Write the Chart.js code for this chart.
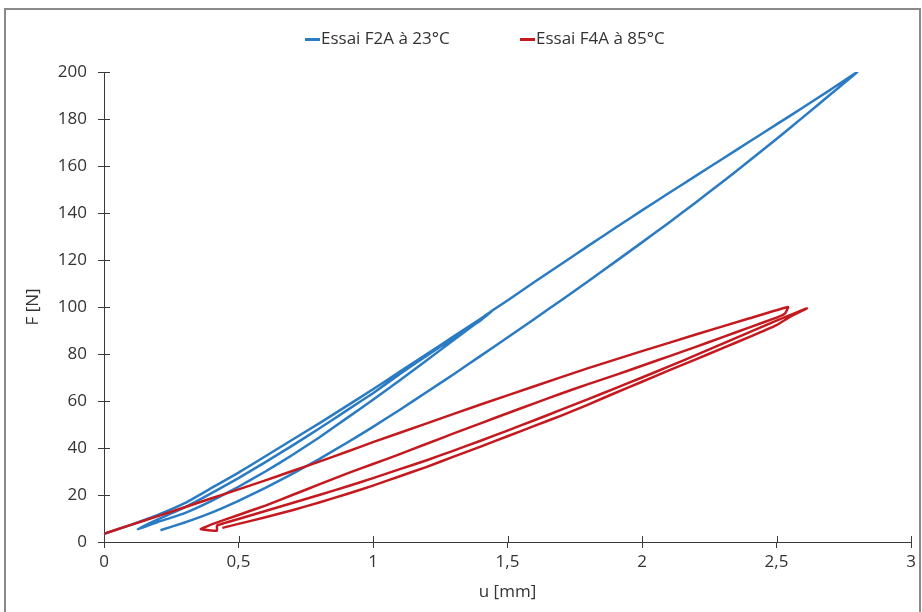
<!DOCTYPE html>
<html>
<head>
<meta charset="utf-8">
<script src="https://cdn.jsdelivr.net/npm/chart.js@4.4.1/dist/chart.umd.min.js"></script>
<style>
html, body { margin: 0; padding: 0; background: #fff; overflow: hidden; }
#wrap { position: relative; width: 922px; height: 612px; }
#frame { position: absolute; left: 4px; top: 8px; width: 917px; height: 640px;
         border: 2px solid #8a8a8a; box-sizing: border-box; }
canvas { position: absolute; left: 0; top: 0; }
#legend { position: absolute; top: 27px; left: 0; width: 922px; height: 22px;
          font: 17px 'Open Sans', sans-serif; color: #333; }
.item { position: absolute; top: 0; line-height: 22px; white-space: nowrap; }
.item i { display: inline-block; width: 15px; height: 3px; vertical-align: middle; margin-right: 1px; }
</style>
</head>
<body>
<div id="wrap">
  <div id="frame"></div>
  <canvas id="chart" width="922" height="612"></canvas>
  <div id="legend"></div>
</div>
<script>
/* Force / displacement cycles, two tests. Each series is one continuous
   path: load, unload, reload, .... */

const seriesNames = ['Essai F2A à 23°C', 'Essai F4A à 85°C'];
const seriesColors = ['#2b7bc3', '#c41a1f'];

// F2A at 23°C: load to 100 N, unload, reload to 200 N, unload
const blueU = [
  0, 0.1, 0.2, 0.3, 0.4, 0.5, 0.6, 0.7, 0.8, 0.9, 1.0, 1.1, 1.2, 1.3, 1.4, 1.45,
  1.4, 1.3, 1.2, 1.1, 1.0, 0.9, 0.8, 0.7, 0.6, 0.5, 0.4, 0.3, 0.2, 0.126,
  0.2, 0.3, 0.4, 0.5, 0.6, 0.7, 0.8, 0.9, 1.0, 1.1, 1.2, 1.3, 1.4, 1.45,
  1.5, 1.6, 1.7, 1.8, 1.9, 2.0, 2.1, 2.2, 2.3, 2.4, 2.5, 2.6, 2.7, 2.8,
  2.75, 2.7, 2.6, 2.5, 2.4, 2.3, 2.2, 2.1, 2.0, 1.9, 1.8, 1.7, 1.6, 1.5,
  1.4, 1.3, 1.2, 1.1, 1.0, 0.9, 0.8, 0.7, 0.6, 0.5, 0.4, 0.3, 0.21
];
const blueF = [
  3.5, 7.3, 11.5, 16.5, 23, 29.5, 36.5, 43.5, 50.5, 57.7, 65, 72.5, 80, 87.5, 95, 99,
  94.3, 86.8, 79.3, 71.5, 63.3, 55.8, 48.3, 41, 34, 27.2, 20.8, 14.7, 9.6, 5.5,
  8.5, 12.3, 17.5, 23.5, 30, 37, 44.5, 52.5, 60.5, 68.8, 77.3, 86, 94.5, 99,
  102.8, 110.6, 118.3, 126, 133.6, 141.1, 148.5, 155.8, 163.1, 170.4, 177.7, 185, 192.4, 200,
  195.2, 190.4, 180.9, 171.5, 162.3, 153.3, 144.5, 135.9, 127.5, 119.2, 111, 102.9, 94.9, 87,
  79.2, 71.4, 63.8, 56.3, 49, 42, 35.3, 29, 23, 17.5, 12.5, 8.3, 5
];

// F4A at 85°C: load to 100 N, unload, reload, unload
const redU = [
  0, 0.1, 0.2, 0.3, 0.4, 0.5, 0.6, 0.7, 0.8, 0.9, 1.0, 1.2, 1.4, 1.6, 1.8, 2.0, 2.2, 2.4, 2.543,
  2.532, 2.5, 2.4, 2.3, 2.2, 2.1, 2.0, 1.9, 1.8, 1.7, 1.6, 1.5, 1.4, 1.3, 1.2, 1.1, 1.0,
  0.9, 0.8, 0.7, 0.6, 0.5, 0.4, 0.36,
  0.42, 0.42, 0.5, 0.6, 0.7, 0.8, 0.9, 1.0, 1.1, 1.2, 1.3, 1.4, 1.5, 1.6, 1.7, 1.8, 1.9,
  2.0, 2.1, 2.2, 2.3, 2.4, 2.5, 2.613,
  2.55, 2.5, 2.4, 2.3, 2.2, 2.1, 2.0, 1.9, 1.8, 1.7, 1.6, 1.5, 1.4, 1.3, 1.2, 1.1, 1.0,
  0.9, 0.8, 0.7, 0.6, 0.5, 0.44
];
const redF = [
  3.5, 7.3, 11, 14.8, 18.6, 22.4, 26.2, 30.2, 34.2, 38.3, 42.5, 50.5, 58.5, 66.3, 74, 81.2, 88.3, 95.2, 100,
  97.3, 95.5, 91.3, 87.2, 83, 79, 75, 71, 67.2, 63.2, 59, 54.8, 50.5, 46.2, 41.8, 37.4, 33.2,
  29, 24.5, 20, 15.5, 11.5, 7.5, 5.5,
  4.8, 7.0, 9.8, 13.2, 16.6, 20, 23.5, 27.2, 31, 34.8, 38.9, 43.1, 47.4, 51.8, 56.3, 60.8, 65.4,
  70, 74.7, 79.5, 84.4, 89.3, 94.2, 99.4,
  95.8, 92.3, 87.3, 82.5, 77.7, 73, 68.2, 63.4, 58.5, 53.8, 49.4, 45, 40.6, 36.3, 32, 28, 24,
  20.3, 16.8, 13.5, 10.5, 7.7, 6.0
];

const xTickLabels = ['0', '0,5', '1', '1,5', '2', '2,5', '3'];
const yTickLabels = ['0', '20', '40', '60', '80', '100', '120', '140', '160', '180', '200'];

const axisColor = '#3a3a3a';
const textColor = '#333';
const baseFont = { family: "'Open Sans', sans-serif", size: 17 };

const toPoints = (us, fs) => us.map((u, i) => ({ x: u, y: fs[i] }));

// legend as plain html, placed like the original (not centred on the canvas)
const legendLeft = [305, 520];
const legend = document.getElementById('legend');
seriesNames.forEach((name, i) => {
    const item = document.createElement('div');
    item.className = 'item';
    item.style.left = legendLeft[i] + 'px';
    item.innerHTML = `<i style="background:${seriesColors[i]}"></i>${name}`;
    legend.appendChild(item);
});

/* Excel-style tick marks that cross the axis: Chart.js draws the outer
   half, this adds the inner half. */
const innerTicks = {
    id: 'innerTicks',
    beforeDatasetsDraw(chart) {
        const { ctx, chartArea, scales: { x, y } } = chart;
        ctx.save();
        ctx.strokeStyle = axisColor;
        ctx.lineWidth = 1;
        ctx.beginPath();
        x.ticks.forEach(t => {
            const px = Math.round(x.getPixelForValue(t.value)) + 0.5;
            ctx.moveTo(px, chartArea.bottom);
            ctx.lineTo(px, chartArea.bottom - 6);
        });
        y.ticks.forEach(t => {
            const py = Math.round(y.getPixelForValue(t.value)) + 0.5;
            ctx.moveTo(chartArea.left, py);
            ctx.lineTo(chartArea.left + 6, py);
        });
        ctx.stroke();
        ctx.restore();
    }
};

new Chart(document.getElementById('chart'), {
    type: 'scatter',
    data: {
        datasets: [
            { label: seriesNames[0], data: toPoints(blueU, blueF), borderColor: seriesColors[0], order: 1 },
            { label: seriesNames[1], data: toPoints(redU, redF), borderColor: seriesColors[1], order: 0 }
        ].map(ds => Object.assign(ds, {
            showLine: true, borderWidth: 2.5, pointRadius: 0, tension: 0.1, fill: false
        }))
    },
    options: {
        responsive: false,
        devicePixelRatio: 1,
        animation: false,
        layout: { padding: { left: 20, right: 11, top: 72, bottom: 0 } },
        plugins: { legend: { display: false }, tooltip: { enabled: false } },
        scales: {
            x: {
                type: 'linear', min: 0, max: 3,
                afterFit: s => { s.height = 70; },
                ticks: { stepSize: 0.5, padding: 4, maxRotation: 0, color: textColor, font: baseFont,
                         callback: (v, i) => xTickLabels[i] },
                grid: { drawOnChartArea: false, tickLength: 6, color: axisColor },
                border: { color: axisColor, width: 1 },
                title: { display: true, text: 'u [mm]', color: textColor, font: baseFont,
                         padding: { top: 0, bottom: 10 } }
            },
            y: {
                type: 'linear', min: 0, max: 200,
                afterFit: s => { s.width = 84; },
                ticks: { stepSize: 20, padding: 11, color: textColor, font: baseFont,
                         callback: (v, i) => yTickLabels[i] },
                grid: { drawOnChartArea: false, tickLength: 6, color: axisColor },
                border: { color: axisColor, width: 1 },
                title: { display: true, text: 'F [N]', color: textColor, font: baseFont,
                         padding: { top: 3, bottom: 0 } }
            }
        }
    },
    plugins: [innerTicks]
});
</script>
</body>
</html>
